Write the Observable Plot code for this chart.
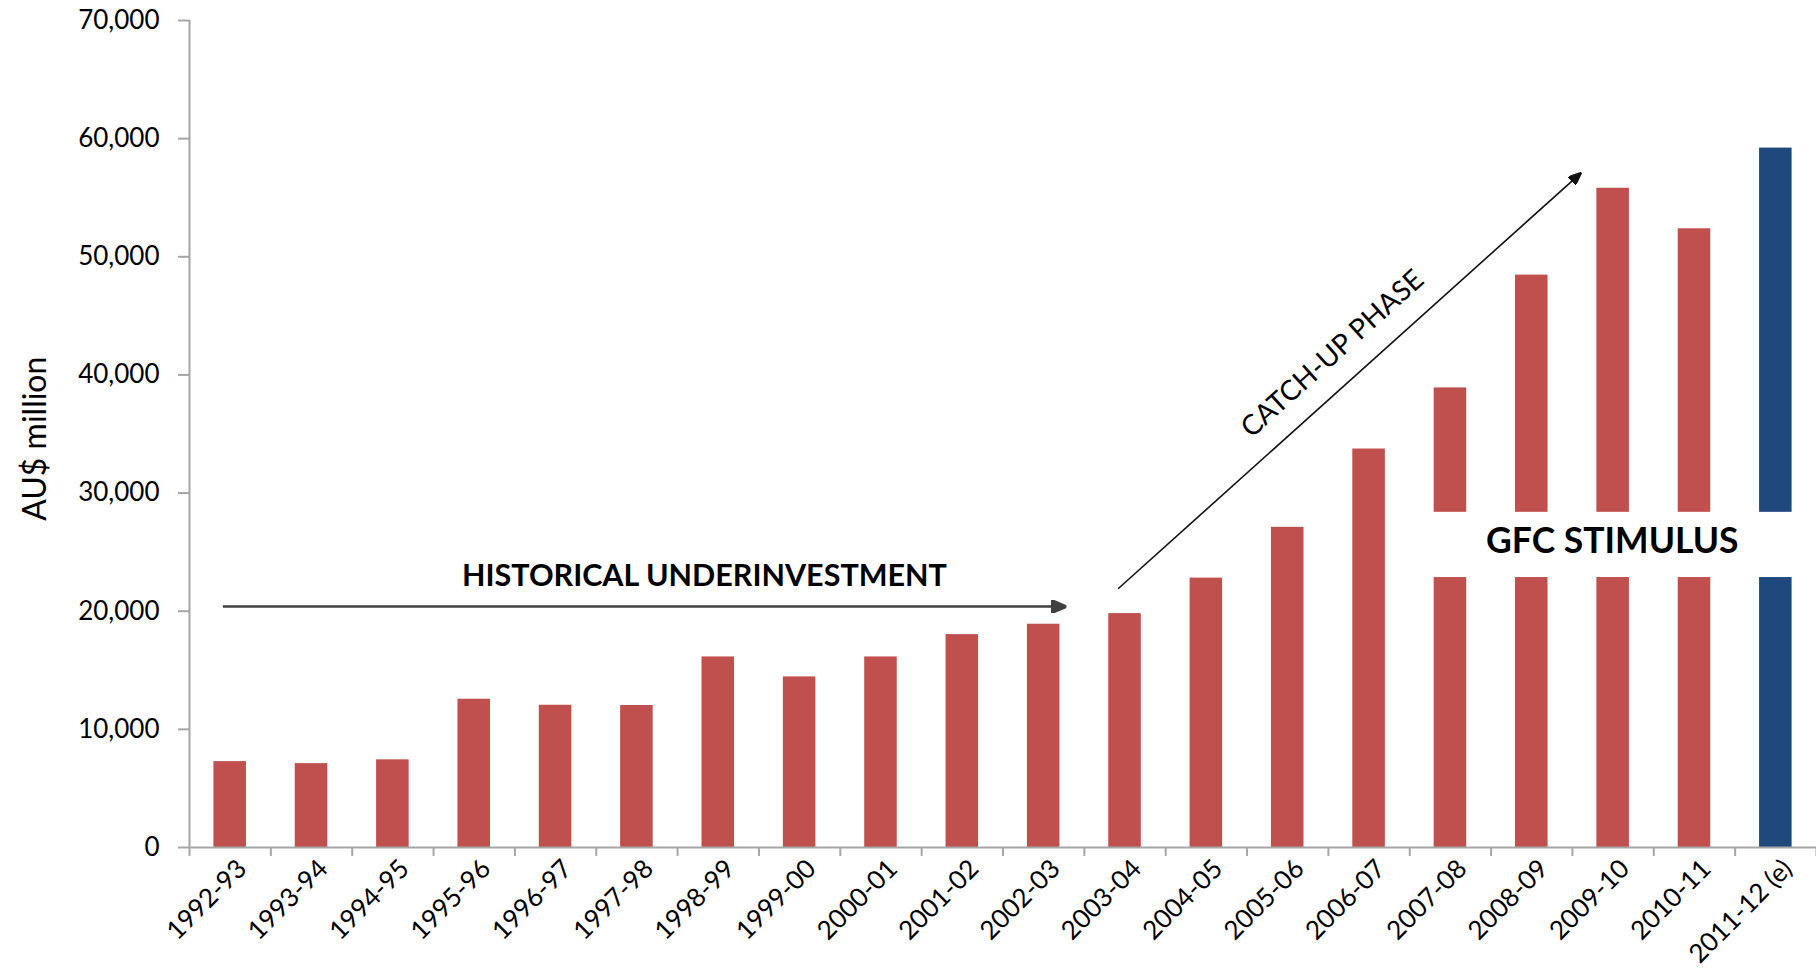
<!DOCTYPE html>
<html>
<head>
<meta charset="utf-8">
<script src="https://cdn.jsdelivr.net/npm/d3@7"></script>
<script src="https://cdn.jsdelivr.net/npm/@observablehq/plot@0.6"></script>
<style>
  html, body { margin: 0; padding: 0; background: #fff; }
  #chart { width: 1816px; height: 971px; }
</style>
</head>
<body>
<div id="chart"></div>
<script>
// ---- data ----
const categories = ["1992-93","1993-94","1994-95","1995-96","1996-97","1997-98","1998-99","1999-00","2000-01","2001-02","2002-03","2003-04","2004-05","2005-06","2006-07","2007-08","2008-09","2009-10","2010-11","2011-12 (e)"];
const values = [7270, 7100, 7420, 12550, 12040, 12020, 16130, 14440, 16130, 18020, 18900, 19800, 22800, 27100, 33730, 38900, 48450, 55800, 52370, 59200];
const kinds = ["actual","actual","actual","actual","actual","actual","actual","actual","actual","actual","actual","actual","actual","actual","actual","actual","actual","actual","actual","estimate"];
const yTicks = [0, 10000, 20000, 30000, 40000, 50000, 60000, 70000];
const gfcCategories = ["2007-08","2008-09","2009-10","2010-11","2011-12 (e)"];
const gfcGap = [22850, 28370];
const arrowHistorical = [{x1: 0.41, y1: 20390, x2: 10.78, y2: 20390}];
const arrowCatchUp = [{x1: 11.415, y1: 21900, x2: 17.11, y2: 57130}];
const labelHistorical = [{text: "HISTORICAL UNDERINVESTMENT", x: 6.33, y: 22960}];
const labelCatchUp = [{text: "CATCH-UP PHASE", x: 14.05, y: 41790}];
const labelGfc = [{text: "GFC STIMULUS", x: 17.49, y: 25890}];
const yTitle = "AU$ million";

// ---- build bar segments ----
const barRows = [];
categories.forEach((c, i) => {
  const v = values[i];
  if (gfcCategories.includes(c)) {
    barRows.push({i, cat: c, y1: 0, y2: gfcGap[0], kind: kinds[i]});
    barRows.push({i, cat: c, y1: gfcGap[1], y2: v, kind: kinds[i]});
  } else {
    barRows.push({i, cat: c, y1: 0, y2: v, kind: kinds[i]});
  }
});
const boundaries = d3.range(0, categories.length + 1);
const axisGray = "#a6a6a6";

function filledArrow(len, wid) {
  return (color) => {
    const m = d3.create("svg:marker")
      .attr("viewBox", `${-len} ${-wid / 2} ${len} ${wid}`)
      .attr("markerUnits", "userSpaceOnUse")
      .attr("markerWidth", len)
      .attr("markerHeight", wid)
      .attr("refX", 0)
      .attr("refY", 0)
      .attr("orient", "auto");
    m.append("path")
      .attr("d", `M${-len},${-wid / 2}L0,0L${-len},${wid / 2}Z`)
      .attr("fill", color);
    return m.node();
  };
}

const chart = Plot.plot({
  width: 1816,
  height: 971,
  marginTop: 20,
  marginBottom: 124,
  marginLeft: 189,
  marginRight: 0,
  style: {fontFamily: "Lato, 'Open Sans', sans-serif", background: "white", color: "#000"},
  x: {domain: [0, categories.length], axis: null},
  y: {domain: [0, 70000], axis: null},
  color: {domain: ["actual", "estimate"], range: ["#C0504D", "#1F497D"]},
  marks: [
    Plot.rectY(barRows, {x1: d => d.i + 0.3, x2: d => d.i + 0.7, y1: "y1", y2: "y2", fill: "kind"}),
    Plot.ruleY([0], {x1: 0, x2: categories.length, stroke: axisGray, strokeWidth: 2}),
    Plot.ruleX([0], {y1: 0, y2: 70000, stroke: axisGray, strokeWidth: 2}),
    Plot.axisY(yTicks, {tickFormat: d3.format(","), tickSize: 11, tickPadding: 19, fontSize: 26, stroke: axisGray, strokeWidth: 2, fill: "#000"}),
    Plot.axisX(boundaries, {tickSize: 9, tickFormat: () => "", stroke: axisGray, strokeWidth: 2}),
    Plot.text(categories, {x: (d, i) => i + 0.5, y: 0, text: d => d, rotate: -45, textAnchor: "end", dx: 12, dy: 17, fontSize: 26, fill: "#000"}),
    Plot.text([yTitle], {frameAnchor: "left", y: 34600, text: d => d, rotate: -90, textAnchor: "middle", dx: -154, fontSize: 32, fill: "#000"}),
    Plot.link(arrowHistorical, {x1: "x1", y1: "y1", x2: "x2", y2: "y2", stroke: "#404040", strokeWidth: 2.5, markerEnd: filledArrow(15, 13)}),
    Plot.link(arrowCatchUp, {x1: "x1", y1: "y1", x2: "x2", y2: "y2", stroke: "#111", strokeWidth: 1.6, markerEnd: filledArrow(13, 11)}),
    Plot.text(labelHistorical, {x: "x", y: "y", text: "text", fontSize: 30.5, fontWeight: 700, fill: "#000"}),
    Plot.text(labelCatchUp, {x: "x", y: "y", text: "text", rotate: -42, fontSize: 28, fill: "#000"}),
    Plot.text(labelGfc, {x: "x", y: "y", text: "text", fontSize: 35.5, fontWeight: 700, fill: "#000"})
  ]
});
document.getElementById("chart").appendChild(chart);
</script>
</body>
</html>
